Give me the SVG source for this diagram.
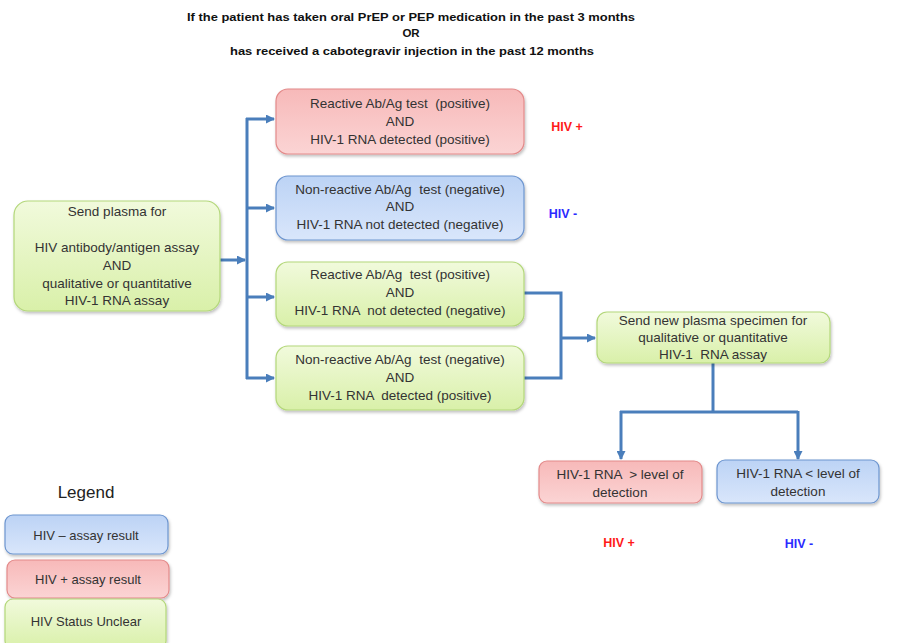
<svg xmlns="http://www.w3.org/2000/svg" width="904" height="643" viewBox="0 0 904 643" xml:space="preserve">
<defs>
<linearGradient id="gRed" x1="0" y1="0" x2="0" y2="1"><stop offset="0" stop-color="#f7b9b9"/><stop offset="1" stop-color="#fbd4d4"/></linearGradient>
<linearGradient id="gBlue" x1="0" y1="0" x2="0" y2="1"><stop offset="0" stop-color="#bcd3f5"/><stop offset="1" stop-color="#d9e6fb"/></linearGradient>
<linearGradient id="gGreen" x1="0" y1="0" x2="0" y2="1"><stop offset="0" stop-color="#f1fadc"/><stop offset="1" stop-color="#d9f0a9"/></linearGradient>
<filter id="sh" x="-10%" y="-10%" width="120%" height="130%"><feDropShadow dx="1" dy="2" stdDeviation="1.5" flood-color="#000" flood-opacity="0.25"/></filter>
<marker id="arr" markerUnits="userSpaceOnUse" markerWidth="9" markerHeight="9" refX="8" refY="4.5" orient="auto"><path d="M0,0 L9,4.5 L0,9 Z" fill="#4a7ebb"/></marker>
</defs>
<style>
text{white-space:pre}
.t{font-family:"Liberation Sans",Arial,sans-serif;font-size:13.5px;fill:#333;text-anchor:middle}
.lt{font-family:"Liberation Sans",Arial,sans-serif;font-size:13px;fill:#333;text-anchor:middle}
.title{font-family:"Liberation Sans",Arial,sans-serif;font-size:11.5px;font-weight:bold;fill:#111;text-anchor:middle}
.red{fill:url(#gRed);stroke:#e38a8a;stroke-width:1.2;filter:url(#sh)}
.blue{fill:url(#gBlue);stroke:#6d95cf;stroke-width:1.2;filter:url(#sh)}
.green{fill:url(#gGreen);stroke:#b3d77a;stroke-width:1.2;filter:url(#sh)}
.c{fill:none;stroke:#4a7ebb;stroke-width:3}
.pos{font-family:"Liberation Sans",Arial,sans-serif;font-size:12.5px;font-weight:bold;fill:#ff1a1a;text-anchor:middle}
.neg{font-family:"Liberation Sans",Arial,sans-serif;font-size:12.5px;font-weight:bold;fill:#2a2aff;text-anchor:middle}
</style>
<rect width="904" height="643" fill="#fff"/>
<g id="title">
<text class="title" x="411" y="21" textLength="448" lengthAdjust="spacingAndGlyphs">If the patient has taken oral PrEP or PEP medication in the past 3 months</text>
<text class="title" x="411" y="37">OR</text>
<text class="title" x="412" y="55" textLength="364" lengthAdjust="spacingAndGlyphs">has received a cabotegravir injection in the past 12 months</text>
</g>
<g id="connectors">
<path class="c" d="M220,260 H245" marker-end="url(#arr)"/>
<path class="c" d="M247,118 V379"/>
<path class="c" d="M246,119 H274" marker-end="url(#arr)"/>
<path class="c" d="M246,208 H274" marker-end="url(#arr)"/>
<path class="c" d="M246,297 H274" marker-end="url(#arr)"/>
<path class="c" d="M246,378 H274" marker-end="url(#arr)"/>
<path class="c" d="M524,293 H561 V378 H524"/>
<path class="c" d="M561,338 H595" marker-end="url(#arr)"/>
<path class="c" d="M713,363 V412"/>
<path class="c" d="M620,412 H798"/>
<path class="c" d="M621,411 V459" marker-end="url(#arr)"/>
<path class="c" d="M798,411 V459" marker-end="url(#arr)"/>
</g>
<g id="start">
<rect class="green" x="14" y="201" width="206" height="110" rx="14"/>
<text class="t" x="117" y="216">Send plasma for</text>
<text class="t" x="117" y="252">HIV antibody/antigen assay</text>
<text class="t" x="117" y="270">AND</text>
<text class="t" x="117" y="288">qualitative or quantitative</text>
<text class="t" x="117" y="305">HIV-1 RNA assay</text>
</g>
<g id="n1">
<rect class="red" x="276" y="89" width="248" height="65" rx="12"/>
<text class="t" x="400" y="108">Reactive Ab/Ag test  (positive)</text>
<text class="t" x="400" y="126">AND</text>
<text class="t" x="400" y="144">HIV-1 RNA detected (positive)</text>
</g>
<g id="n2">
<rect class="blue" x="276" y="176" width="248" height="64" rx="12"/>
<text class="t" x="400" y="194">Non-reactive Ab/Ag  test (negative)</text>
<text class="t" x="400" y="211">AND</text>
<text class="t" x="400" y="229">HIV-1 RNA not detected (negative)</text>
</g>
<g id="n3">
<rect class="green" x="276" y="262" width="248" height="64" rx="12"/>
<text class="t" x="400" y="279">Reactive Ab/Ag  test (positive)</text>
<text class="t" x="400" y="297">AND</text>
<text class="t" x="400" y="315">HIV-1 RNA  not detected (negative)</text>
</g>
<g id="n4">
<rect class="green" x="276" y="346" width="248" height="64" rx="12"/>
<text class="t" x="400" y="364">Non-reactive Ab/Ag  test (negative)</text>
<text class="t" x="400" y="382">AND</text>
<text class="t" x="400" y="400">HIV-1 RNA  detected (positive)</text>
</g>
<g id="hivpos1"><text class="pos" x="567" y="131">HIV +</text></g>
<g id="hivneg1"><text class="neg" x="563" y="218">HIV -</text></g>
<g id="n5">
<rect class="green" x="597" y="312" width="233" height="51" rx="10"/>
<text class="t" x="713" y="325">Send new plasma specimen for</text>
<text class="t" x="713" y="342">qualitative or quantitative</text>
<text class="t" x="713" y="359">HIV-1  RNA assay</text>
</g>
<g id="n6">
<rect class="red" x="539" y="461" width="163" height="42" rx="8"/>
<text class="t" x="620" y="479">HIV-1 RNA  &gt; level of</text>
<text class="t" x="620" y="497">detection</text>
</g>
<g id="n7">
<rect class="blue" x="717" y="460" width="162" height="43" rx="8"/>
<text class="t" x="798" y="478">HIV-1 RNA &lt; level of</text>
<text class="t" x="798" y="496">detection</text>
</g>
<g id="hivpos2"><text class="pos" x="619" y="547">HIV +</text></g>
<g id="hivneg2"><text class="neg" x="799" y="548">HIV -</text></g>
<g id="legend">
<text x="86" y="498" style="font-family:'Liberation Sans',Arial,sans-serif;font-size:17px;fill:#222;text-anchor:middle">Legend</text>
<rect class="blue" x="5" y="515" width="163" height="39" rx="8"/>
<text class="lt" x="86" y="540">HIV – assay result</text>
<rect class="red" x="7" y="560" width="162" height="38" rx="8"/>
<text class="lt" x="88" y="584">HIV + assay result</text>
<rect class="green" x="5" y="599" width="161" height="50" rx="8"/>
<text class="lt" x="86" y="626">HIV Status Unclear</text>
</g>
</svg>
